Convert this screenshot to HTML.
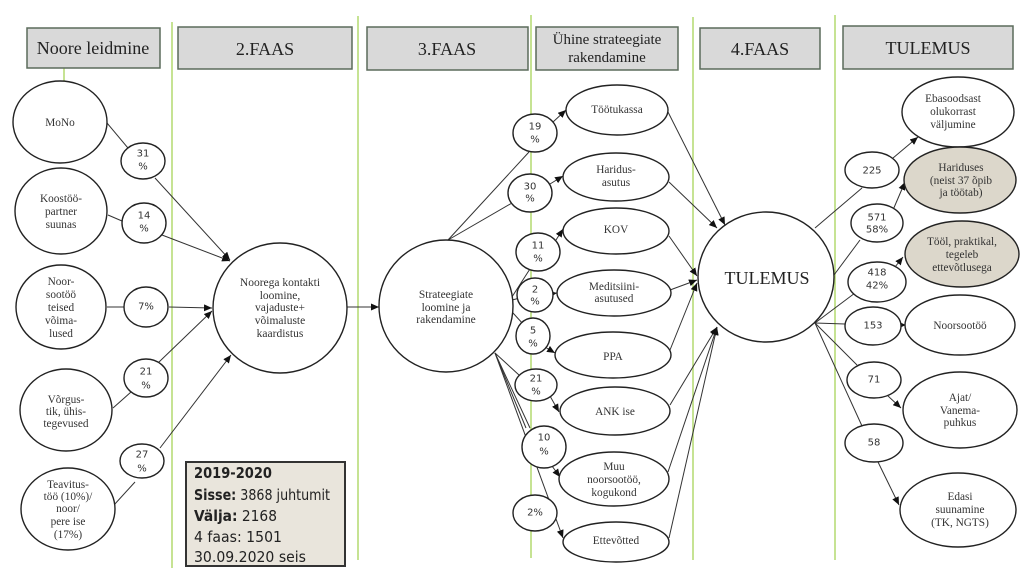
<!DOCTYPE html>
<html><head><meta charset="utf-8"><style>
html,body{margin:0;padding:0;background:#fff;}
svg{display:block;}
.e{fill:#fff;stroke:#222;stroke-width:1.4;}
.b{fill:#dcd7cb;stroke:#222;stroke-width:1.4;}
.l{stroke:#333;stroke-width:1;fill:none;}
.a{stroke:#333;stroke-width:1;fill:none;marker-end:url(#ar);}
.g{stroke:#b8dc78;stroke-width:1.6;}
.h{fill:#d9d9d9;stroke:#5b6b5b;stroke-width:1.5;}
.s{font-family:"Liberation Serif",serif;font-size:11.3px;fill:#333;text-anchor:middle;dominant-baseline:central;}
.p{font-family:"DejaVu Sans","Liberation Sans",sans-serif;font-size:10px;fill:#333;text-anchor:middle;dominant-baseline:central;}
.t{font-family:"Liberation Serif",serif;font-size:18px;fill:#222;text-anchor:middle;dominant-baseline:central;}
.bx{font-family:"DejaVu Sans","Liberation Sans",sans-serif;font-size:15px;fill:#222;dominant-baseline:central;}
</style></head><body>
<svg width="1024" height="576" viewBox="0 0 1024 576" xmlns="http://www.w3.org/2000/svg">
<defs>
<marker id="ar" markerUnits="userSpaceOnUse" markerWidth="8" markerHeight="7" refX="8" refY="3.5" orient="auto">
<path d="M0,0 L8,3.5 L0,7 z" fill="#111"/>
</marker>
</defs>

<!-- green verticals -->
<line class="g" x1="172" y1="22" x2="172" y2="568"/>
<line class="g" x1="358" y1="16" x2="358" y2="560"/>
<line class="g" x1="531" y1="15" x2="531" y2="558"/>
<line class="g" x1="693" y1="17" x2="693" y2="560"/>
<line class="g" x1="835" y1="15" x2="835" y2="560"/>
<line class="g" x1="64" y1="68" x2="64" y2="82"/>

<!-- headers -->
<rect class="h" x="27" y="28" width="133" height="40"/>
<text class="t" x="93" y="48">Noore leidmine</text>
<rect class="h" x="178" y="27" width="174" height="42"/>
<text class="t" x="265" y="49">2.FAAS</text>
<rect class="h" x="367" y="27" width="161" height="43"/>
<text class="t" x="447" y="49">3.FAAS</text>
<rect class="h" x="536" y="27" width="142" height="43"/>
<text class="t" x="607" y="40" style="font-size:15px">Ühine strateegiate</text>
<text class="t" x="607" y="58" style="font-size:15px">rakendamine</text>
<rect class="h" x="700" y="28" width="120" height="41"/>
<text class="t" x="760" y="49">4.FAAS</text>
<rect class="h" x="843" y="26" width="170" height="43"/>
<text class="t" x="928" y="48">TULEMUS</text>

<!-- connectors left -->
<line class="l" x1="107" y1="123" x2="128" y2="148"/>
<line class="a" x1="155" y1="178" x2="230" y2="260"/>
<line class="l" x1="108" y1="215" x2="122" y2="221"/>
<line class="a" x1="162" y1="235" x2="230" y2="261"/>
<line class="l" x1="107" y1="307" x2="124" y2="307"/>
<line class="a" x1="169" y1="307" x2="212" y2="308"/>
<line class="l" x1="113" y1="408" x2="131" y2="392"/>
<line class="a" x1="159" y1="362" x2="212" y2="311"/>
<line class="l" x1="114" y1="505" x2="135" y2="482"/>
<line class="a" x1="160" y1="448" x2="231" y2="355"/>
<line class="a" x1="347" y1="307" x2="379" y2="307"/>

<!-- connectors middle -->
<line class="l" x1="448" y1="240" x2="529" y2="152"/>
<line class="l" x1="448" y1="240" x2="512" y2="203"/>
<line class="a" x1="553" y1="122" x2="566" y2="110"/>
<line class="a" x1="550" y1="184" x2="563" y2="176"/>
<line class="l" x1="510" y1="300" x2="537" y2="258"/>
<line class="l" x1="512" y1="300" x2="520" y2="298"/>
<line class="l" x1="513" y1="313" x2="524" y2="325"/>
<line class="a" x1="556" y1="240" x2="563" y2="229"/>
<line class="a" x1="550" y1="294" x2="557" y2="293"/>
<line class="a" x1="545" y1="347" x2="555" y2="353"/>
<line class="l" x1="495" y1="353" x2="519" y2="375"/>
<line class="a" x1="550" y1="396" x2="559" y2="412"/>
<line class="l" x1="495" y1="353" x2="530" y2="428"/>
<line class="l" x1="495" y1="353" x2="526" y2="428"/>
<line class="a" x1="552" y1="466" x2="560" y2="477"/>
<line class="a" x1="495" y1="353" x2="563" y2="538"/>

<!-- col4 to TULEMUS -->
<line class="a" x1="668" y1="112" x2="725" y2="225"/>
<line class="a" x1="669" y1="182" x2="717" y2="228"/>
<line class="a" x1="669" y1="236" x2="697" y2="276"/>
<line class="a" x1="670" y1="290" x2="697" y2="280"/>
<line class="a" x1="670" y1="350" x2="697" y2="283"/>
<line class="a" x1="670" y1="405" x2="717" y2="327"/>
<line class="a" x1="668" y1="472" x2="717" y2="327"/>
<line class="a" x1="669" y1="538" x2="717" y2="327"/>

<!-- TULEMUS to right -->
<line class="l" x1="815" y1="228" x2="862" y2="188"/>
<line class="a" x1="893" y1="158" x2="918" y2="137"/>
<line class="l" x1="834" y1="275" x2="860" y2="240"/>
<line class="a" x1="893" y1="210" x2="905" y2="182"/>
<line class="l" x1="815" y1="323" x2="855" y2="293"/>
<line class="a" x1="895" y1="267" x2="903" y2="257"/>
<line class="l" x1="815" y1="323" x2="845" y2="324"/>
<line class="a" x1="900" y1="325" x2="906" y2="325"/>
<line class="l" x1="815" y1="323" x2="857" y2="365"/>
<line class="a" x1="888" y1="396" x2="901" y2="408"/>
<line class="l" x1="815" y1="323" x2="862" y2="426"/>
<line class="a" x1="878" y1="462" x2="899" y2="505"/>

<!-- left ellipses -->
<ellipse class="e" cx="60" cy="122" rx="47" ry="41"/>
<text class="s" x="60" y="123">MoNo</text>
<ellipse class="e" cx="61" cy="211" rx="46" ry="43"/>
<text class="s" x="61" y="199">Koostöö-</text>
<text class="s" x="61" y="212">partner</text>
<text class="s" x="61" y="225">suunas</text>
<ellipse class="e" cx="61" cy="307" rx="45" ry="42"/>
<text class="s" x="61" y="282">Noor-</text>
<text class="s" x="61" y="295">sootöö</text>
<text class="s" x="61" y="308">teised</text>
<text class="s" x="61" y="321">võima-</text>
<text class="s" x="61" y="334">lused</text>
<ellipse class="e" cx="66" cy="410" rx="46" ry="41"/>
<text class="s" x="66" y="400">Võrgus-</text>
<text class="s" x="66" y="412">tik, ühis-</text>
<text class="s" x="66" y="424">tegevused</text>
<ellipse class="e" cx="68" cy="509" rx="47" ry="41"/>
<text class="s" x="68" y="485">Teavitus-</text>
<text class="s" x="68" y="497">töö (10%)/</text>
<text class="s" x="68" y="509">noor/</text>
<text class="s" x="68" y="522">pere ise</text>
<text class="s" x="68" y="535">(17%)</text>

<!-- left percent -->
<ellipse class="e" cx="143" cy="161" rx="22" ry="18"/>
<text class="p" x="143" y="154">31</text><text class="p" x="143" y="167">%</text>
<ellipse class="e" cx="144" cy="223" rx="22" ry="20"/>
<text class="p" x="144" y="216">14</text><text class="p" x="144" y="229">%</text>
<ellipse class="e" cx="146" cy="307" rx="22" ry="20"/>
<text class="p" x="146" y="307">7%</text>
<ellipse class="e" cx="146" cy="378" rx="22" ry="19"/>
<text class="p" x="146" y="372">21</text><text class="p" x="146" y="386">%</text>
<ellipse class="e" cx="142" cy="461" rx="22" ry="17"/>
<text class="p" x="142" y="455">27</text><text class="p" x="142" y="469">%</text>

<!-- central circles -->
<ellipse class="e" cx="280" cy="308" rx="67" ry="65"/>
<text class="s" x="280" y="283" style="font-size:11.5px">Noorega kontakti</text>
<text class="s" x="280" y="296" style="font-size:11.5px">loomine,</text>
<text class="s" x="280" y="308" style="font-size:11.5px">vajaduste+</text>
<text class="s" x="280" y="321" style="font-size:11.5px">võimaluste</text>
<text class="s" x="280" y="334" style="font-size:11.5px">kaardistus</text>
<ellipse class="e" cx="446" cy="306" rx="67" ry="66"/>
<text class="s" x="446" y="295" style="font-size:11.5px">Strateegiate</text>
<text class="s" x="446" y="308" style="font-size:11.5px">loomine ja</text>
<text class="s" x="446" y="320" style="font-size:11.5px">rakendamine</text>

<!-- box -->
<rect x="186" y="462" width="159" height="104" fill="#e9e5dc" stroke="#333" stroke-width="2"/>
<text class="bx" x="194" y="473" style="font-weight:bold" textLength="78" lengthAdjust="spacingAndGlyphs">2019-2020</text>
<text class="bx" x="194" y="495" textLength="136" lengthAdjust="spacingAndGlyphs"><tspan style="font-weight:bold">Sisse:</tspan> 3868 juhtumit</text>
<text class="bx" x="194" y="516" textLength="83" lengthAdjust="spacingAndGlyphs"><tspan style="font-weight:bold">Välja:</tspan> 2168</text>
<text class="bx" x="194" y="537" textLength="88" lengthAdjust="spacingAndGlyphs">4 faas: 1501</text>
<text class="bx" x="194" y="557" textLength="112" lengthAdjust="spacingAndGlyphs">30.09.2020 seis</text>

<!-- col4 percents -->
<ellipse class="e" cx="535" cy="133" rx="22" ry="19"/>
<text class="p" x="535" y="127">19</text><text class="p" x="535" y="140">%</text>
<ellipse class="e" cx="530" cy="193" rx="22" ry="19"/>
<text class="p" x="530" y="187">30</text><text class="p" x="530" y="199">%</text>
<ellipse class="e" cx="538" cy="252" rx="22" ry="19"/>
<text class="p" x="538" y="246">11</text><text class="p" x="538" y="259">%</text>
<ellipse class="e" cx="535" cy="295" rx="18" ry="17"/>
<text class="p" x="535" y="290">2</text><text class="p" x="535" y="302">%</text>
<ellipse class="e" cx="533" cy="336" rx="17" ry="18"/>
<text class="p" x="533" y="331">5</text><text class="p" x="533" y="344">%</text>
<ellipse class="e" cx="536" cy="385" rx="21" ry="16"/>
<text class="p" x="536" y="379">21</text><text class="p" x="536" y="392">%</text>
<ellipse class="e" cx="544" cy="447" rx="22" ry="21"/>
<text class="p" x="544" y="438">10</text><text class="p" x="544" y="452">%</text>
<ellipse class="e" cx="535" cy="513" rx="22" ry="18"/>
<text class="p" x="535" y="513">2%</text>

<!-- col4 ellipses -->
<ellipse class="e" cx="617" cy="110" rx="51" ry="25"/>
<text class="s" x="617" y="110">Töötukassa</text>
<ellipse class="e" cx="616" cy="177" rx="53" ry="24"/>
<text class="s" x="616" y="170">Haridus-</text><text class="s" x="616" y="183">asutus</text>
<ellipse class="e" cx="616" cy="231" rx="53" ry="23"/>
<text class="s" x="616" y="230">KOV</text>
<ellipse class="e" cx="614" cy="293" rx="57" ry="23"/>
<text class="s" x="614" y="287">Meditsiini-</text><text class="s" x="614" y="299">asutused</text>
<ellipse class="e" cx="613" cy="355" rx="58" ry="23"/>
<text class="s" x="613" y="357">PPA</text>
<ellipse class="e" cx="615" cy="411" rx="55" ry="24"/>
<text class="s" x="615" y="412">ANK ise</text>
<ellipse class="e" cx="614" cy="479" rx="55" ry="27"/>
<text class="s" x="614" y="467">Muu</text><text class="s" x="614" y="480">noorsootöö,</text><text class="s" x="614" y="493">kogukond</text>
<ellipse class="e" cx="616" cy="542" rx="53" ry="20"/>
<text class="s" x="616" y="541">Ettevõtted</text>

<!-- TULEMUS -->
<ellipse class="e" cx="766" cy="277" rx="68" ry="65"/>
<text class="t" x="767" y="278">TULEMUS</text>

<!-- right numbers -->
<ellipse class="e" cx="872" cy="170" rx="27" ry="18"/>
<text class="p" x="872" y="171">225</text>
<ellipse class="e" cx="877" cy="223" rx="26" ry="19"/>
<text class="p" x="877" y="218">571</text><text class="p" x="877" y="230">58%</text>
<ellipse class="e" cx="877" cy="282" rx="29" ry="20"/>
<text class="p" x="877" y="273">418</text><text class="p" x="877" y="286">42%</text>
<ellipse class="e" cx="873" cy="326" rx="28" ry="19"/>
<text class="p" x="873" y="326">153</text>
<ellipse class="e" cx="874" cy="380" rx="27" ry="18"/>
<text class="p" x="874" y="380">71</text>
<ellipse class="e" cx="874" cy="443" rx="29" ry="19"/>
<text class="p" x="874" y="443">58</text>

<!-- right ellipses -->
<ellipse class="e" cx="958" cy="112" rx="56" ry="35"/>
<text class="s" x="953" y="99">Ebasoodsast</text><text class="s" x="953" y="112">olukorrast</text><text class="s" x="953" y="125">väljumine</text>
<ellipse class="b" cx="960" cy="180" rx="56" ry="33"/>
<text class="s" x="961" y="168">Hariduses</text><text class="s" x="961" y="181">(neist 37 õpib</text><text class="s" x="961" y="193">ja töötab)</text>
<ellipse class="b" cx="962" cy="254" rx="57" ry="33"/>
<text class="s" x="962" y="242">Tööl, praktikal,</text><text class="s" x="962" y="255">tegeleb</text><text class="s" x="962" y="268">ettevõtlusega</text>
<ellipse class="e" cx="960" cy="325" rx="55" ry="30"/>
<text class="s" x="960" y="326">Noorsootöö</text>
<ellipse class="e" cx="960" cy="410" rx="57" ry="38"/>
<text class="s" x="960" y="398">Ajat/</text><text class="s" x="960" y="411">Vanema-</text><text class="s" x="960" y="423">puhkus</text>
<ellipse class="e" cx="958" cy="510" rx="58" ry="37"/>
<text class="s" x="960" y="497">Edasi</text><text class="s" x="960" y="510">suunamine</text><text class="s" x="960" y="523">(TK, NGTS)</text>
</svg>
</body></html>
